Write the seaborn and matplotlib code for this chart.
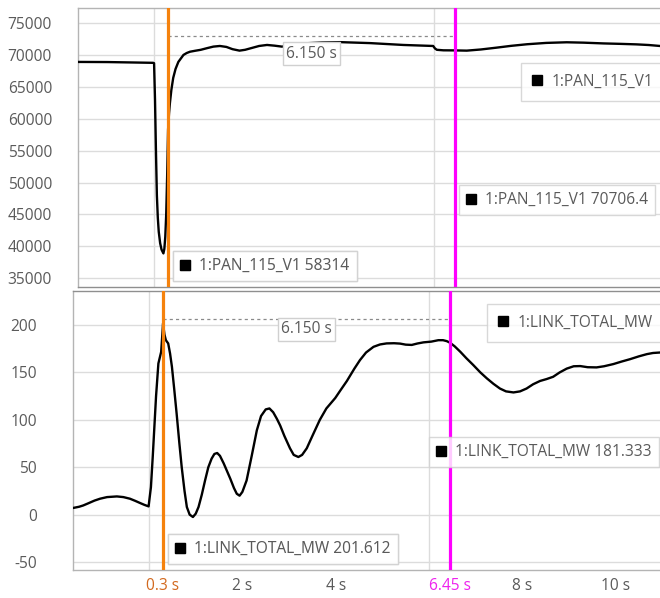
import matplotlib
matplotlib.use("Agg")
import matplotlib.pyplot as plt
from matplotlib.lines import Line2D
import seaborn as sns
import pandas as pd

# ---- PAN_115_V1 bus voltage trace (time in s) ----
v_time = [-1.63, -1.0, -0.5, -0.02, 0.0, 0.02, 0.04, 0.06, 0.08, 0.1, 0.13,
          0.16, 0.2, 0.22, 0.24, 0.26, 0.28, 0.3, 0.32, 0.34, 0.37, 0.41,
          0.46, 0.52, 0.58, 0.63, 0.7, 0.77, 0.88, 1.0, 1.13, 1.27, 1.41,
          1.55, 1.68, 1.83, 1.95, 2.1, 2.25, 2.42, 2.58, 2.74, 2.95, 3.2,
          3.6, 4.0, 4.63, 5.34, 5.98, 6.02, 6.06, 6.2, 6.45, 6.7, 7.0, 7.34,
          7.65, 7.99, 8.4, 8.84, 9.2, 9.63, 10.0, 10.34, 10.6, 10.84]
v_vals = [68900, 68880, 68820, 68760, 68700, 63000, 55000, 48000, 44500,
          42300, 40500, 39500, 38900, 39600, 41500, 45000, 51000, 58314,
          60800, 62500, 64500, 66400, 67800, 68900, 69500, 70000, 70300,
          70500, 70650, 70800, 71050, 71300, 71400, 71250, 70900, 70670,
          70800, 71100, 71400, 71560, 71450, 71300, 71550, 71800, 71950,
          72000, 71850, 71560, 71400, 71000, 70800, 70720, 70706.4, 70670,
          70850, 71140, 71420, 71670, 71880, 71980, 71920, 71800, 71730,
          71650, 71550, 71400]

# ---- LINK_TOTAL_MW tie-line power trace ----
p_time = [-1.63, -1.5, -1.41, -1.3, -1.17, -1.05, -0.9, -0.69, -0.55, -0.41,
          -0.3, -0.19, -0.1, -0.01, 0.04, 0.08, 0.11, 0.15, 0.2, 0.26, 0.3,
          0.33, 0.36, 0.41, 0.45, 0.49, 0.54, 0.59, 0.65, 0.70, 0.76, 0.81,
          0.87, 0.94, 1.0, 1.06, 1.13, 1.20, 1.27, 1.34, 1.40, 1.46, 1.52,
          1.6, 1.67, 1.74, 1.82, 1.88, 1.94, 2.0, 2.09, 2.2, 2.31, 2.4, 2.5,
          2.58, 2.66, 2.74, 2.81, 2.9, 3.02, 3.1, 3.2, 3.28, 3.38, 3.5, 3.66,
          3.8, 3.99, 4.1, 4.24, 4.4, 4.52, 4.65, 4.81, 4.95, 5.09, 5.25,
          5.38, 5.5, 5.63, 5.75, 5.88, 6.05, 6.2, 6.3, 6.38, 6.45, 6.55,
          6.67, 6.8, 6.95, 7.1, 7.24, 7.38, 7.52, 7.65, 7.81, 7.95, 8.09,
          8.23, 8.38, 8.52, 8.66, 8.8, 8.95, 9.1, 9.24, 9.4, 9.59, 9.75,
          9.95, 10.13, 10.31, 10.5, 10.67, 10.8, 10.95]
p_vals = [7, 8.3, 9.7, 12, 14.8, 16.8, 18.5, 19.2, 18.5, 16.8, 14.6, 12.2,
          10.3, 8.7, 29, 62, 89, 125, 159.5, 171.8, 201.612, 190, 184, 180.6,
          170, 156, 132, 107, 75, 50, 25, 8, 0, -2.5, 1, 8, 21, 36, 50, 59,
          64, 65, 62, 54, 46, 38, 28, 22, 20, 24, 36, 62, 89, 104, 111, 112,
          108, 101, 94, 83, 70, 63, 60.8, 63, 70, 83, 100, 112, 123, 131,
          141, 154, 163, 171, 177, 179.5, 180.6, 180.8, 180.4, 179.3, 179,
          180.5, 181.7, 182.5, 184, 184, 183, 181.333, 177.5, 171.8, 165,
          157.7, 150, 143.7, 138, 133, 130, 128.9, 130, 133, 137.5, 141,
          143, 145.4, 150, 154, 156.5, 156.7, 155.5, 155.3, 156.5, 158.8,
          161.5, 164, 167, 169.3, 170.5, 171]

v_name = "1:PAN_115_V1"
p_name = "1:LINK_TOTAL_MW"
cursor_times = [0.3, 6.45]
v_readouts = [58314, 70706.4]
p_readouts = [201.612, 181.333]

v_ticks = [35000, 40000, 45000, 50000, 55000, 60000, 65000, 70000, 75000]
p_ticks = [-50, 0, 50, 100, 150, 200]
x_grid = [0, 2, 4, 6, 8, 10]
x_ticks = [0.3, 2, 4, 6.45, 8, 10]
x_labels = ["0.3 s", "2 s", "4 s", "6.45 s", "8 s", "10 s"]

# ---- styling ----
W, H = 660, 598
sns.set_theme(style="white")
plt.rcParams["font.family"] = ["Open Sans", "DejaVu Sans"]
TXT = "#5a5a5a"
GRID = "#dcdcdc"
EDGE = "#b4b4b4"
DARK = "#8f8f8f"
CUR = ["#f5820d", "#ff00ff"]
CUR_TXT = ["#d2691e", "#ee22ee"]
FS = 11.2

fig = plt.figure(figsize=(W / 100, H / 100), dpi=100)
ax_v = fig.add_axes([78 / W, 1 - 287 / H, (W - 78) / W, 279 / H])
ax_p = fig.add_axes([73 / W, 1 - 570 / H, (W - 73) / W, 279.3 / H])

df_v = pd.DataFrame({"t": v_time, "v": v_vals})
df_p = pd.DataFrame({"t": p_time, "p": p_vals})
sns.lineplot(data=df_v, x="t", y="v", ax=ax_v, color="black", lw=1.7,
             zorder=3)
sns.lineplot(data=df_p, x="t", y="p", ax=ax_p, color="black", lw=1.7,
             zorder=3)

ax_v.set_xlim(-1.63, 10.84)
ax_v.set_ylim(33637, 77350)
ax_p.set_xlim(-1.63, 10.95)
ax_p.set_ylim(-58.4, 236.2)

for ax, yt, pad in ((ax_v, v_ticks, 18.7), (ax_p, p_ticks, 25.9)):
    ax.set_xlabel("")
    ax.set_ylabel("")
    ax.set_yticks(yt)
    ax.set_yticklabels([str(v) for v in yt])
    ax.set_xticks(x_grid, minor=True)
    ax.grid(True, which="major", axis="y", color=GRID, lw=1.0)
    ax.grid(True, which="minor", axis="x", color=GRID, lw=1.0)
    ax.grid(False, which="major", axis="x")
    ax.tick_params(which="both", length=0)
    ax.tick_params(axis="y", pad=pad, labelsize=FS, labelcolor=TXT)
    ax.spines["right"].set_visible(False)
    for s in ("left", "top", "bottom"):
        ax.spines[s].set_color(EDGE)
        ax.spines[s].set_linewidth(1.0)
    for tc, col in zip(cursor_times, CUR):
        ax.axvline(tc, color=col, lw=2.3, zorder=4)

ax_v.spines["bottom"].set_color(DARK)
ax_p.spines["top"].set_color(DARK)

ax_v.set_xticks(x_ticks)
ax_v.set_xticklabels([])
ax_p.set_xticks(x_ticks)
ax_p.set_xticklabels(x_labels)
ax_p.tick_params(axis="x", pad=6, labelsize=FS, labelcolor=TXT)
lbls = ax_p.get_xticklabels()
lbls[0].set_color(CUR_TXT[0])
lbls[3].set_color(CUR_TXT[1])

# delta-time measurement between the two cursors
delta = f"{cursor_times[1] - cursor_times[0]:.3f} s"
mid = (cursor_times[0] + cursor_times[1]) / 2
for ax, ytop in ((ax_v, 0.865), (ax_p, 0.89)):
    ax.plot(cursor_times, [0.90, 0.90], transform=ax.get_xaxis_transform(),
            color="#8a8a8a", lw=0.9, ls=(0, (2.5, 2.5)), zorder=3)
    ax.text(mid, ytop, delta, transform=ax.get_xaxis_transform(),
            ha="center", va="top", fontsize=FS, color=TXT, zorder=6,
            bbox=dict(boxstyle="square,pad=0.22", fc="white", ec="#d0d0d0",
                      lw=1.0))


def tag(ax, text, x_px, y_px, pad=0.45):
    handle = Line2D([], [], marker="s", color="black", ls="none",
                    markersize=6.5)
    leg = ax.legend([handle], [text], loc="upper left",
                    bbox_to_anchor=(x_px / W, 1 - y_px / H),
                    bbox_transform=fig.transFigure, frameon=True,
                    fancybox=False, edgecolor="#cfcfcf", framealpha=0.8,
                    handlelength=0.7, handletextpad=0.55, borderpad=pad,
                    borderaxespad=0, fontsize=FS, labelcolor=TXT)
    leg.get_frame().set_linewidth(1.0)
    leg.set_zorder(7)
    ax.add_artist(leg)


tag(ax_v, v_name, 521, 63, pad=0.7)
tag(ax_v, f"{v_name} {v_readouts[1]:g}", 459, 185)
tag(ax_v, f"{v_name} {v_readouts[0]:g}", 173, 251)
tag(ax_p, p_name, 487, 304, pad=0.7)
tag(ax_p, f"{p_name} {p_readouts[1]:g}", 429, 437)
tag(ax_p, f"{p_name} {p_readouts[0]:g}", 168, 534)

fig.savefig("out.png", dpi=100)
